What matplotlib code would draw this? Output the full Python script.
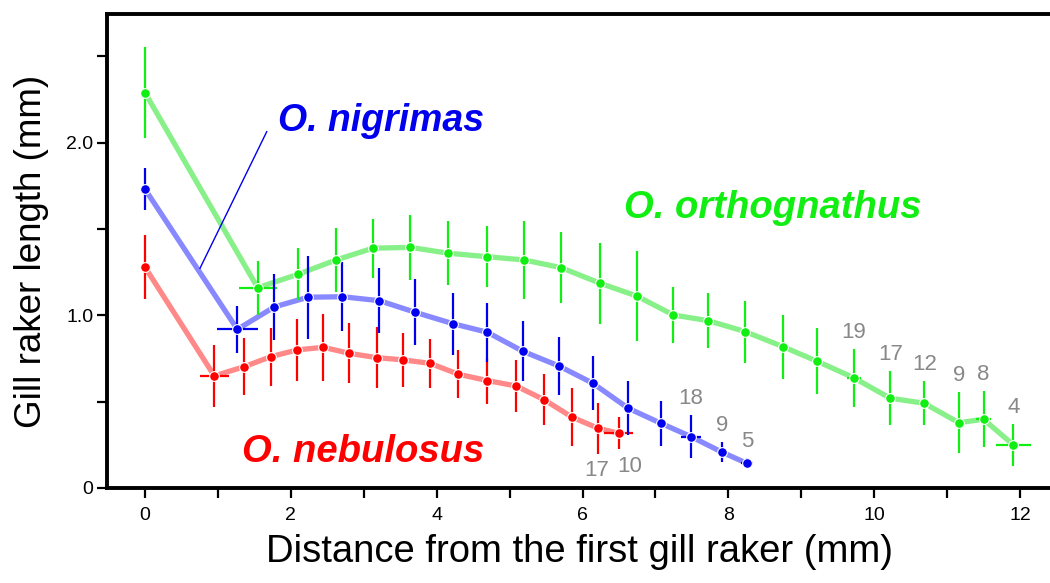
import matplotlib
matplotlib.use("Agg")
import matplotlib.pyplot as plt
from matplotlib.ticker import MultipleLocator


plt.rcParams["font.family"] = ["Liberation Sans", "DejaVu Sans"]

# O. orthognathus
ORTH_X = [0, 1.545, 2.099, 2.62, 3.123, 3.635, 4.161, 4.687, 5.199, 5.711, 6.241, 6.744,
          7.247, 7.727, 8.23, 8.747, 9.218, 9.717, 10.22, 10.686, 11.16, 11.5, 11.91]
ORTH_Y = [2.29, 1.16, 1.238, 1.321, 1.389, 1.394, 1.36, 1.34, 1.321, 1.276, 1.186, 1.112,
          1.002, 0.969, 0.906, 0.819, 0.734, 0.639, 0.52, 0.491, 0.378, 0.398, 0.249]
ORTH_YERR = [0.265, 0.155, 0.15, 0.185, 0.17, 0.19, 0.185, 0.175, 0.225, 0.205, 0.234, 0.26,
             0.164, 0.16, 0.18, 0.185, 0.19, 0.167, 0.157, 0.128, 0.177, 0.161, 0.119]
ORTH_XERR = [0, 0.26, 0, 0, 0, 0, 0, 0, 0, 0, 0.05, 0,
             0, 0, 0, 0, 0, 0.096, 0, 0, 0.05, 0.1, 0.235]
ORTH_N = [19, 17, 12, 9, 8, 4]  # sample sizes of the last points

# O. nigrimas
NIG_X = [0, 1.266, 1.774, 2.236, 2.707, 3.215, 3.704, 4.221, 4.696, 5.181, 5.675, 6.141,
         6.626, 7.074, 7.49, 7.915, 8.254]
NIG_Y = [1.731, 0.919, 1.049, 1.105, 1.108, 1.085, 1.018, 0.952, 0.902, 0.792, 0.707, 0.607,
         0.462, 0.375, 0.297, 0.207, 0.143]
NIG_YERR = [0.12, 0.138, 0.19, 0.24, 0.2, 0.19, 0.19, 0.18, 0.17, 0.174, 0.166, 0.155,
            0.156, 0.13, 0.123, 0.058, 0.03]
NIG_XERR = [0, 0.285, 0, 0, 0, 0, 0, 0, 0, 0, 0, 0,
            0.05, 0.04, 0.14, 0.05, 0.08]
NIG_N = [18, 9, 5]

# O. nebulosus
NEB_X = [0, 0.951, 1.362, 1.728, 2.089, 2.446, 2.803, 3.178, 3.544, 3.909, 4.298, 4.696,
         5.089, 5.478, 5.857, 6.214, 6.498]
NEB_Y = [1.279, 0.649, 0.703, 0.761, 0.8, 0.815, 0.78, 0.755, 0.742, 0.722, 0.659, 0.622,
         0.591, 0.51, 0.41, 0.346, 0.317]
NEB_YERR = [0.187, 0.18, 0.164, 0.168, 0.179, 0.193, 0.174, 0.177, 0.157, 0.14, 0.14, 0.133,
            0.148, 0.148, 0.167, 0.147, 0.094]
NEB_XERR = [0, 0.2, 0, 0, 0, 0, 0, 0, 0, 0, 0, 0,
            0, 0, 0, 0.04, 0.2]
NEB_N = [17, 10]

GREEN, GREEN_LIGHT = "#11ee11", "#88f088"
BLUE, BLUE_LIGHT = "#0000ee", "#8888ff"
RED, RED_LIGHT = "#ff0000", "#ff8888"
GREY = "#888888"


def draw_series(ax, x, y, yerr, xerr, dark, light):
    ax.plot(x, y, color=light, lw=3.8, solid_capstyle="round", zorder=2)
    ax.errorbar(x, y, yerr=yerr, xerr=xerr, fmt="none", ecolor=dark,
                elinewidth=1.6, capsize=0, zorder=3)
    ax.plot(x, y, "o", color=dark, ms=7, mec="white", mew=0.8, zorder=4)


def label_counts(ax, x, y, yerr, counts, above=True, dx=None):
    k = len(counts)
    xs, ys, es = x[-k:], y[-k:], yerr[-k:]
    for i, n in enumerate(counts):
        off_x = dx[i] if dx else 0
        if above:
            ax.annotate(str(n), (xs[i], ys[i] + es[i]), xytext=(off_x, 12),
                        textcoords="offset points", ha="center", va="center",
                        fontsize=16, color=GREY)
        else:
            ax.annotate(str(n), (xs[i], ys[i] - es[i]), xytext=(off_x, -12),
                        textcoords="offset points", ha="center", va="center",
                        fontsize=16, color=GREY)


def main() -> None:
    fig = plt.figure(figsize=(10.5, 5.83), dpi=100)
    ax = fig.add_axes([0.102, 0.163, 0.9, 0.813])

    draw_series(ax, ORTH_X, ORTH_Y, ORTH_YERR, ORTH_XERR, GREEN, GREEN_LIGHT)
    draw_series(ax, NEB_X, NEB_Y, NEB_YERR, NEB_XERR, RED, RED_LIGHT)
    draw_series(ax, NIG_X, NIG_Y, NIG_YERR, NIG_XERR, BLUE, BLUE_LIGHT)

    label_counts(ax, ORTH_X, ORTH_Y, ORTH_YERR, ORTH_N)
    label_counts(ax, NIG_X, NIG_Y, NIG_YERR, NIG_N)
    label_counts(ax, NEB_X, NEB_Y, NEB_YERR, NEB_N, above=False, dx=[-1, 8])

    ax.plot([0.754, 1.669], [1.273, 2.064], color=BLUE, lw=1.0, zorder=5)

    ax.text(1.83, 2.066, "O. nigrimas", color=BLUE, fontsize=27,
            fontweight="bold", fontstyle="italic", va="baseline")
    ax.text(6.57, 1.563, "O. orthognathus", color=GREEN, fontsize=27.5,
            fontweight="bold", fontstyle="italic", va="baseline")
    ax.text(1.33, 0.152, "O. nebulosus", color=RED, fontsize=27.5,
            fontweight="bold", fontstyle="italic", va="baseline")

    ax.set_xlim(-0.52, 12.44)
    ax.set_ylim(0, 2.746)

    ax.xaxis.set_major_locator(MultipleLocator(2))
    ax.xaxis.set_minor_locator(MultipleLocator(1))
    ax.set_yticks([0, 1, 2])
    ax.set_yticklabels(["0", "1.0", "2.0"])
    ax.yaxis.set_minor_locator(MultipleLocator(0.5))

    ax.tick_params(which="both", direction="out", length=7, width=1.6)
    ax.tick_params(axis="x", which="major", labelsize=14, pad=7)
    ax.tick_params(axis="y", which="major", labelsize=14, pad=3)

    for side in ["left", "bottom", "top"]:
        ax.spines[side].set_linewidth(2.8)
    ax.spines["right"].set_visible(False)

    ax.set_xlabel("Distance from the first gill raker (mm)", fontsize=27.5, labelpad=7)
    ax.set_ylabel("Gill raker length (mm)", fontsize=26.5, labelpad=12)

    fig.savefig("out.png", dpi=100)
    plt.close(fig)


if __name__ == "__main__":
    main()
